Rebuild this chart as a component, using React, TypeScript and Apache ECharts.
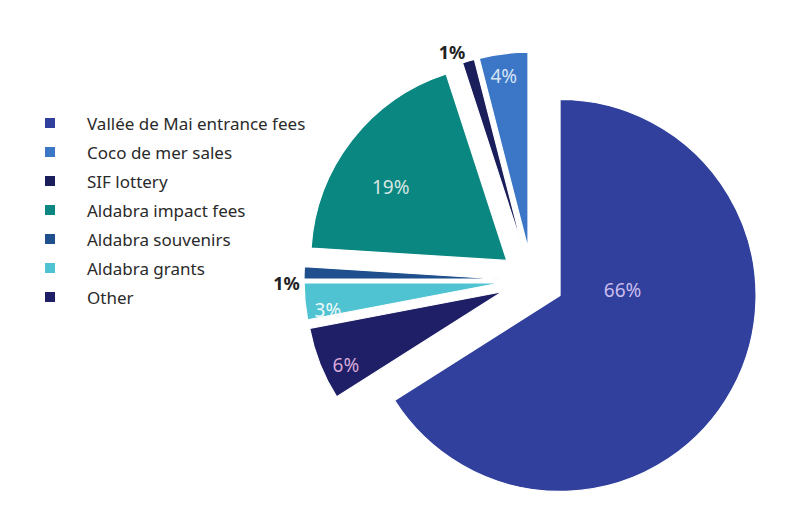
import React, { useEffect, useRef } from 'react';
import * as echarts from 'echarts';

const categories = [
  'Vallée de Mai entrance fees',
  'Coco de mer sales',
  'SIF lottery',
  'Aldabra impact fees',
  'Aldabra souvenirs',
  'Aldabra grants',
  'Other',
];
const shares = [66, 4, 1, 19, 1, 3, 6];

const colors = ['#30409c', '#3b77c6', '#1a1f5c', '#0b8782', '#1f4f8c', '#4fc3d2', '#1e1f66'];
const labelColors = ['#cbbcee', '#d8e4f6', '#222222', '#d8e6e2', '#222222', '#f0f9fa', '#d8a8d8'];
const labelOutside = [false, false, true, false, true, false, false];
const labelRadius = [0.32, 0.89, 1.07, 0.7, 1.09, 0.89, 0.88];
const labelAngleShift = [33.4, 0.8, 3.6, 5.5, 2.8, 3.6, 3.4];

const CX = 532;
const CY = 280;
const R = 196;
const OFF = 32;

export default function App() {
  const ref = useRef<HTMLDivElement>(null);
  useEffect(() => {
    if (!ref.current) return;
    const chart = echarts.init(ref.current, null, { renderer: 'svg' });
    const total = shares.reduce((a, b) => a + b, 0);
    const startAngle = 90 - (shares[0] / total) * 360 + 360;
    const mids: number[] = [];
    let cum = 0;
    shares.forEach((s) => {
      mids.push(startAngle + ((cum + s / 2) / total) * 360);
      cum += s;
    });
    const data = categories.map((name, i) => ({
      name,
      value: shares[i],
      selected: true,
      itemStyle: { color: colors[i] },
    }));
    const labels = shares.map((v, i) => {
      const m = (mids[i] * Math.PI) / 180;
      const ax = CX + OFF * Math.cos(m);
      const ay = CY - OFF * Math.sin(m);
      const t = ((mids[i] + labelAngleShift[i]) * Math.PI) / 180;
      return {
        type: 'text',
        x: ax + labelRadius[i] * R * Math.cos(t),
        y: ay - labelRadius[i] * R * Math.sin(t),
        z: 10,
        style: {
          text: `${v}%`,
          align: 'center',
          verticalAlign: 'middle',
          fontFamily: 'Noto Sans',
          fontSize: labelOutside[i] ? 18 : 19,
          fontWeight: labelOutside[i] ? 'bold' : 'normal',
          fill: labelColors[i],
        },
      };
    });
    chart.setOption({
      animation: false,
      backgroundColor: '#ffffff',
      legend: {
        orient: 'vertical',
        left: 38,
        top: 108,
        itemWidth: 12,
        itemHeight: 12,
        itemGap: 9,
        icon: 'rect',
        data: categories,
        selectedMode: false,
        textStyle: {
          fontFamily: 'Noto Sans',
          fontSize: 17,
          color: '#2a2a2a',
          lineHeight: 20,
          padding: [0, 0, 0, 26],
        },
      },
      graphic: labels,
      series: [
        {
          type: 'pie',
          center: [CX, CY],
          radius: R,
          clockwise: false,
          startAngle,
          selectedMode: 'multiple',
          selectedOffset: OFF,
          avoidLabelOverlap: false,
          itemStyle: { borderColor: '#ffffff', borderWidth: 1.2 },
          select: { itemStyle: { borderColor: '#ffffff', borderWidth: 1.2 } },
          emphasis: { disabled: true },
          label: { show: false },
          labelLine: { show: false },
          data,
        },
      ],
    });
    return () => chart.dispose();
  }, []);
  return (
    <div
      ref={ref}
      style={{ position: 'absolute', left: 0, top: 0, width: 803, height: 519 }}
    />
  );
}
